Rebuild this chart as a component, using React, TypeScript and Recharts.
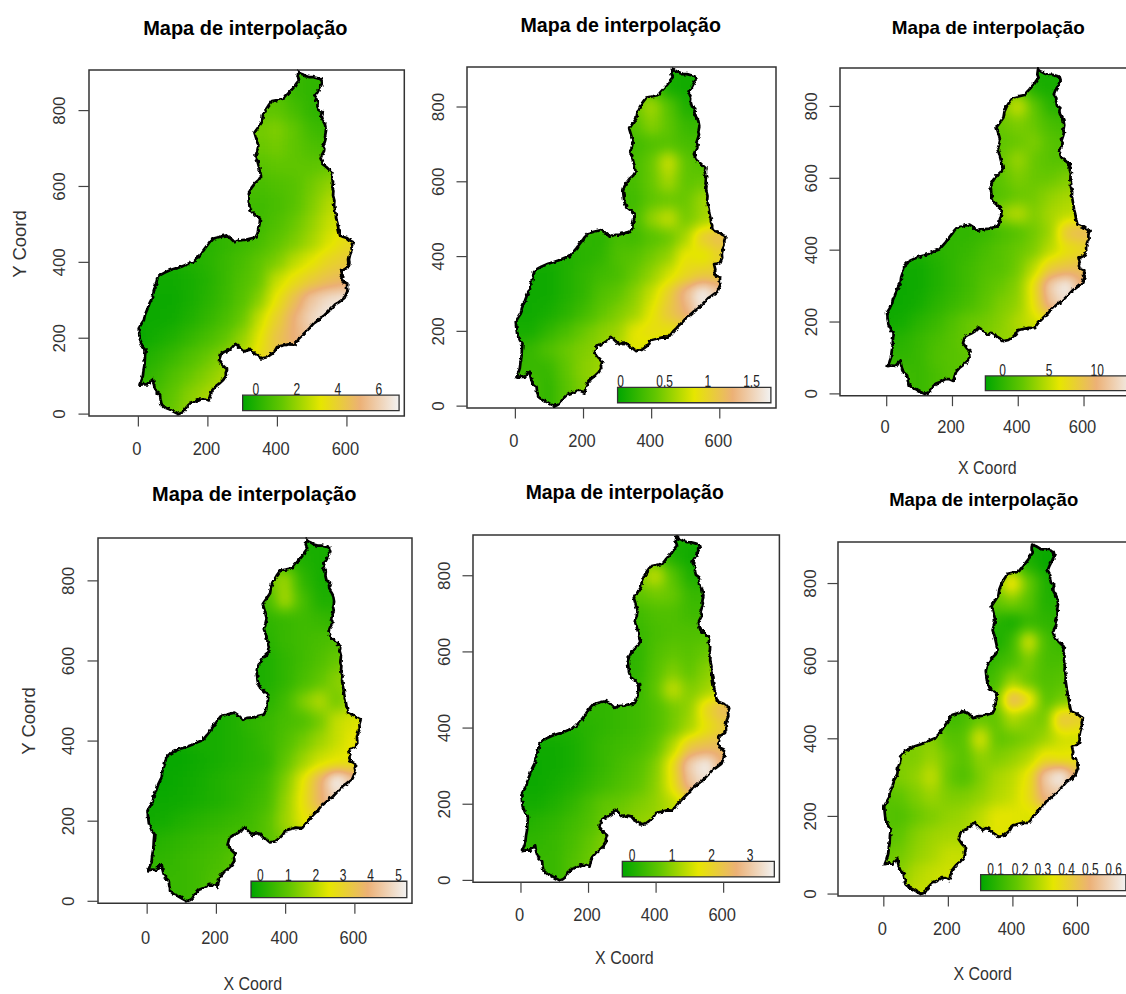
import { ReferenceArea, Scatter, ScatterChart, XAxis, YAxis } from "recharts";

const FONT = '"Liberation Sans", Arial, sans-serif';

// terrain palette (level 0, 25, 50, 75, 100)
const paletteR = [0, 0.39, 0.9, 0.925, 0.95];
const paletteG = [0.65, 0.78, 0.9, 0.69, 0.95];
const paletteB = [0, 0, 0, 0.46, 0.95];
const paletteStops = ["#00A600", "#63C600", "#E6E600", "#ECB176", "#F2F2F2"];

const xTicks = [0, 200, 400, 600];
const yTicks = [0, 200, 400, 600, 800];
const X_DOMAIN = [-142, 765];
const Y_DOMAIN = [-5, 907];

const gridXs = [0, 50, 100, 150, 200, 250, 300, 350, 400, 450, 500, 550, 600];
const gridYs = [900, 850, 800, 750, 700, 650, 600, 550, 500, 450, 400, 350, 300, 250, 200, 150, 100, 50, 0];

const outlineX = [
  460, 466, 472, 482, 492, 504, 516, 526, 529, 523, 518, 513, 508, 512, 516, 515, 518, 528, 525, 527, 533, 537, 540, 537, 539, 537,
  531, 535, 534, 528, 524, 528, 531, 540, 546, 558, 556, 560, 558, 561, 560, 564, 563, 568, 570, 573, 576, 580, 590, 600, 608, 617, 613, 614,
  609, 606, 607, 602, 592, 583, 587, 584, 586, 601, 600, 602, 599, 593, 584, 575, 566, 556, 546, 536, 522, 511, 503, 492, 478, 472, 464, 458,
  448, 432, 418, 408, 399, 392, 384, 370, 355, 344, 335, 326, 316, 306, 296, 287, 279, 268, 257, 245, 238, 232, 238, 243, 255, 251, 252, 244, 236,
  222, 211, 206, 203, 191, 179, 165, 150, 140, 130, 124, 115, 102, 91, 78, 67, 64, 62, 52, 47, 44, 42, 34, 27, 14, 3, 8, 13, 15, 18, 19, 21, 14, 11,
  5, 3, 1, 9, 16, 19, 27, 33, 42, 44, 50, 55, 64, 76, 96, 115, 128, 145, 160, 179, 188, 199, 206, 213, 233, 252, 264, 277, 290, 306, 322, 337,
  343, 345, 349, 350, 338, 326, 320, 318, 316, 320, 326, 336, 346, 353, 350, 345, 342, 337, 342, 345, 340, 334, 344, 355, 358, 365, 374, 384, 400, 419, 428, 438, 448, 455, 462, 458, 460,
];
const outlineY = [
  903, 898, 896, 891, 888, 888, 885, 882, 873, 862, 853, 845, 834, 828, 823, 812, 802, 796, 787, 778, 770, 763, 748, 733, 727, 720,
  704, 699, 693, 683, 674, 666, 658, 652, 647, 637, 625, 613, 596, 588, 577, 562, 551, 524, 512, 502, 486, 471, 467, 464, 458, 454, 442, 431,
  420, 408, 397, 386, 381, 380, 365, 358, 350, 344, 332, 325, 319, 306, 300, 294, 289, 279, 270, 261, 252, 243, 238, 226, 214, 208, 201, 194,
  183, 184, 181, 179, 177, 166, 159, 150, 147, 155, 159, 168, 170, 165, 172, 180, 185, 174, 168, 163, 159, 141, 134, 128, 118, 108, 101, 90, 83,
  73, 61, 48, 36, 41, 41, 34, 29, 20, 7, 3, 0, 6, 12, 17, 25, 38, 52, 59, 70, 80, 92, 86, 78, 79, 77, 88, 101, 117, 132, 150, 168, 175, 181,
  194, 208, 226, 238, 248, 262, 279, 294, 310, 325, 340, 359, 367, 373, 381, 386, 390, 397, 402, 422, 433, 446, 455, 462, 467, 471, 464, 453, 458, 459, 463, 466,
  476, 488, 502, 515, 524, 533, 546, 560, 575, 587, 597, 609, 617, 627, 640, 658, 668, 680, 694, 707, 724, 742, 755, 769, 785, 800, 813, 825, 828, 832, 842, 852, 862, 872, 880, 889, 903,
];

const levels1 = [
  [14, 14, 14, 14, 14, 14, 14, 14, 14, 14, 12, 12, 12],
  [20, 20, 20, 20, 20, 20, 20, 22, 20, 14, 12, 12, 12],
  [24, 24, 24, 24, 24, 24, 24, 24, 24, 18, 12, 10, 10],
  [28, 28, 28, 28, 28, 28, 28, 28, 30, 24, 16, 14, 14],
  [26, 26, 26, 26, 26, 26, 26, 26, 28, 24, 20, 18, 18],
  [22, 22, 22, 22, 22, 22, 22, 22, 24, 24, 24, 26, 28],
  [18, 18, 18, 18, 18, 18, 18, 18, 20, 22, 28, 34, 38],
  [16, 16, 16, 16, 16, 16, 16, 16, 18, 22, 30, 40, 46],
  [14, 14, 14, 14, 14, 14, 14, 16, 20, 26, 34, 44, 50],
  [8, 8, 8, 8, 10, 12, 15, 18, 24, 30, 38, 48, 56],
  [6, 6, 6, 8, 10, 14, 18, 24, 30, 42, 50, 58, 62],
  [4, 4, 4, 6, 9, 14, 20, 26, 44, 54, 62, 68, 72],
  [3, 3, 3, 6, 10, 15, 22, 32, 52, 68, 84, 92, 96],
  [3, 3, 4, 8, 13, 18, 26, 44, 60, 76, 90, 98, 100],
  [2, 5, 8, 13, 18, 24, 34, 50, 66, 76, 84, 90, 90],
  [6, 10, 14, 20, 26, 32, 40, 54, 64, 70, 74, 74, 74],
  [10, 14, 20, 26, 32, 38, 42, 54, 60, 64, 64, 64, 64],
  [14, 18, 24, 32, 38, 42, 44, 50, 56, 60, 60, 60, 60],
  [16, 20, 26, 34, 40, 44, 44, 50, 56, 60, 60, 60, 60],
];
const levels2 = [
  [8, 8, 8, 8, 8, 8, 8, 8, 8, 6, 6, 6, 6],
  [20, 20, 20, 20, 20, 20, 20, 22, 18, 6, 4, 6, 6],
  [26, 26, 26, 26, 26, 26, 26, 26, 38, 22, 8, 8, 8],
  [22, 22, 22, 22, 22, 22, 22, 22, 32, 24, 14, 14, 14],
  [16, 16, 16, 16, 16, 16, 16, 16, 20, 22, 18, 18, 18],
  [18, 18, 18, 18, 18, 18, 18, 18, 26, 46, 24, 20, 20],
  [18, 18, 18, 18, 18, 18, 18, 18, 26, 38, 24, 26, 30],
  [16, 16, 16, 16, 16, 16, 16, 16, 24, 26, 26, 36, 40],
  [18, 18, 18, 18, 18, 18, 18, 18, 34, 44, 28, 36, 44],
  [12, 12, 12, 12, 12, 10, 18, 16, 22, 26, 38, 62, 68],
  [6, 6, 6, 8, 10, 12, 20, 22, 28, 34, 52, 48, 58],
  [4, 4, 4, 8, 12, 16, 18, 26, 34, 46, 56, 62, 62],
  [4, 4, 4, 8, 12, 20, 24, 32, 44, 60, 80, 100, 84],
  [4, 4, 6, 10, 16, 24, 30, 36, 50, 64, 74, 96, 84],
  [6, 6, 12, 18, 26, 32, 36, 50, 54, 52, 56, 56, 56],
  [10, 14, 20, 26, 30, 34, 40, 50, 46, 46, 46, 46, 46],
  [14, 14, 14, 24, 32, 36, 38, 44, 46, 46, 46, 46, 46],
  [18, 18, 12, 22, 30, 36, 38, 44, 46, 46, 46, 46, 46],
  [18, 18, 12, 22, 30, 36, 38, 44, 46, 46, 46, 46, 46],
];
const levels3 = [
  [8, 8, 8, 8, 8, 8, 8, 8, 8, 6, 6, 6, 6],
  [22, 22, 22, 22, 22, 22, 22, 22, 22, 8, 6, 6, 6],
  [30, 30, 30, 30, 30, 30, 30, 30, 46, 24, 10, 10, 10],
  [24, 24, 24, 24, 24, 24, 24, 26, 30, 26, 18, 16, 16],
  [24, 24, 24, 24, 24, 24, 24, 24, 26, 30, 22, 20, 20],
  [22, 22, 22, 22, 22, 22, 22, 26, 36, 26, 22, 22, 22],
  [18, 18, 18, 18, 18, 18, 18, 24, 30, 26, 26, 30, 30],
  [14, 14, 14, 14, 14, 14, 16, 22, 26, 28, 34, 38, 38],
  [16, 16, 16, 16, 16, 16, 18, 34, 42, 30, 38, 42, 42],
  [12, 12, 12, 12, 12, 12, 14, 18, 22, 28, 36, 66, 70],
  [8, 8, 8, 10, 12, 14, 18, 22, 26, 30, 42, 52, 56],
  [4, 4, 4, 8, 12, 16, 20, 22, 28, 42, 62, 66, 68],
  [3, 3, 4, 8, 12, 16, 22, 26, 32, 54, 88, 100, 72],
  [3, 3, 5, 10, 14, 18, 24, 30, 34, 52, 82, 94, 72],
  [4, 5, 10, 14, 20, 26, 28, 32, 40, 46, 50, 52, 52],
  [8, 10, 14, 18, 22, 26, 30, 34, 36, 40, 40, 40, 40],
  [12, 12, 14, 20, 22, 24, 26, 30, 34, 36, 36, 36, 36],
  [16, 16, 14, 18, 22, 22, 24, 30, 34, 36, 36, 36, 36],
  [16, 16, 14, 18, 22, 22, 24, 30, 34, 36, 36, 36, 36],
];
const levels4 = [
  [8, 8, 8, 8, 8, 8, 8, 8, 8, 6, 6, 6, 6],
  [14, 14, 14, 14, 14, 14, 14, 14, 12, 8, 6, 6, 6],
  [26, 26, 26, 26, 26, 26, 26, 26, 36, 12, 6, 6, 6],
  [14, 14, 14, 14, 14, 14, 14, 18, 38, 18, 8, 8, 8],
  [10, 10, 10, 10, 10, 10, 10, 12, 14, 16, 14, 12, 12],
  [8, 8, 8, 8, 8, 8, 8, 10, 14, 16, 18, 20, 20],
  [6, 6, 6, 6, 6, 6, 6, 8, 12, 16, 20, 26, 28],
  [6, 6, 6, 6, 6, 6, 6, 8, 12, 18, 24, 32, 36],
  [8, 8, 8, 8, 8, 8, 8, 10, 16, 30, 40, 28, 42],
  [6, 6, 6, 6, 6, 8, 12, 14, 18, 20, 28, 44, 48],
  [3, 3, 4, 6, 6, 8, 10, 14, 20, 28, 36, 44, 52],
  [2, 2, 2, 4, 6, 8, 10, 12, 24, 36, 46, 50, 52],
  [2, 2, 3, 5, 8, 10, 12, 16, 30, 50, 72, 100, 80],
  [3, 3, 4, 6, 8, 10, 14, 18, 34, 52, 72, 90, 76],
  [4, 5, 8, 10, 12, 14, 16, 22, 36, 50, 56, 56, 56],
  [8, 10, 12, 14, 16, 18, 18, 22, 30, 34, 34, 34, 34],
  [12, 12, 14, 16, 18, 22, 22, 24, 30, 30, 30, 30, 30],
  [14, 14, 14, 16, 20, 22, 22, 24, 30, 30, 30, 30, 30],
  [14, 14, 14, 16, 20, 22, 22, 24, 30, 30, 30, 30, 30],
];
const levels5 = [
  [8, 8, 8, 8, 8, 8, 8, 8, 8, 6, 6, 6, 6],
  [20, 20, 20, 20, 20, 20, 20, 20, 20, 8, 4, 4, 4],
  [30, 30, 30, 30, 30, 30, 30, 30, 44, 22, 8, 8, 8],
  [24, 24, 24, 24, 24, 24, 24, 24, 28, 26, 14, 14, 14],
  [16, 16, 16, 16, 16, 16, 16, 16, 20, 20, 16, 16, 16],
  [14, 14, 14, 14, 14, 14, 14, 14, 18, 20, 20, 20, 20],
  [10, 10, 10, 10, 10, 10, 10, 12, 20, 24, 22, 26, 30],
  [12, 12, 12, 12, 12, 12, 12, 12, 22, 30, 24, 32, 38],
  [12, 12, 12, 12, 12, 12, 12, 14, 24, 44, 30, 36, 46],
  [12, 12, 12, 12, 12, 12, 14, 16, 20, 28, 34, 58, 70],
  [8, 8, 8, 8, 10, 12, 14, 16, 20, 28, 38, 52, 62],
  [4, 4, 4, 6, 10, 14, 16, 18, 24, 40, 64, 68, 70],
  [3, 3, 4, 6, 10, 14, 18, 22, 30, 54, 88, 100, 72],
  [3, 3, 5, 8, 12, 16, 20, 24, 32, 52, 82, 94, 72],
  [5, 5, 8, 12, 18, 24, 26, 30, 34, 42, 52, 54, 54],
  [8, 10, 12, 16, 20, 26, 30, 34, 36, 40, 40, 40, 40],
  [12, 12, 14, 18, 24, 30, 32, 34, 36, 36, 36, 36, 36],
  [14, 14, 14, 20, 26, 30, 32, 34, 36, 36, 36, 36, 36],
  [14, 14, 14, 20, 26, 30, 32, 34, 36, 36, 36, 36, 36],
];
const levels6 = [
  [8, 8, 8, 8, 8, 8, 8, 8, 8, 4, 3, 3, 3],
  [10, 10, 10, 10, 10, 10, 10, 10, 22, 8, 2, 2, 2],
  [30, 30, 30, 30, 30, 30, 30, 30, 56, 26, 8, 6, 6],
  [24, 24, 24, 24, 24, 24, 24, 24, 30, 22, 8, 10, 10],
  [10, 10, 10, 10, 10, 10, 10, 10, 6, 14, 12, 10, 10],
  [6, 6, 6, 6, 6, 6, 6, 6, 14, 48, 18, 14, 14],
  [8, 8, 8, 8, 8, 8, 8, 14, 18, 30, 18, 18, 22],
  [12, 12, 12, 12, 12, 12, 14, 18, 36, 26, 20, 22, 24],
  [14, 14, 14, 14, 14, 14, 16, 26, 74, 56, 22, 28, 34],
  [22, 22, 22, 22, 16, 18, 26, 24, 40, 32, 28, 66, 60],
  [30, 30, 30, 32, 22, 22, 50, 24, 26, 30, 36, 46, 46],
  [30, 30, 30, 36, 28, 22, 34, 30, 34, 40, 54, 50, 52],
  [28, 30, 34, 44, 26, 20, 30, 38, 42, 52, 86, 100, 70],
  [22, 24, 30, 36, 30, 30, 34, 40, 44, 54, 80, 84, 70],
  [22, 20, 26, 30, 34, 36, 42, 50, 50, 48, 52, 52, 52],
  [22, 24, 32, 36, 38, 38, 44, 50, 48, 48, 48, 48, 48],
  [26, 28, 34, 38, 44, 44, 44, 46, 48, 48, 48, 48, 48],
  [30, 32, 40, 44, 46, 44, 44, 46, 48, 48, 48, 48, 48],
  [34, 36, 44, 44, 46, 44, 44, 46, 48, 48, 48, 48, 48],
];

const legendLabels1 = ["0", "2", "4", "6"];
const legendXs1 = [338, 456, 574, 692];
const legendLabels2 = ["0", "0.5", "1", "1.5"];
const legendXs2 = [309, 438, 565, 693];
const legendLabels3 = ["0", "5", "10"];
const legendXs3 = [352, 494, 640];
const legendLabels4 = ["0", "1", "2", "3", "4", "5"];
const legendXs4 = [327, 408, 487, 566, 645, 726];
const legendLabels5 = ["0", "1", "2", "3"];
const legendXs5 = [329, 447, 564, 678];
const legendLabels6 = ["0.1", "0.2", "0.3", "0.4", "0.5", "0.6"];
const legendXs6 = [346, 422, 493, 566, 640, 712];

const M_LEFT = 80;
const M_TOP = 70;
const M_BOTTOM = 105;
const M_RIGHT = 4;

const panels = [
  { left: 88.7, right: 404, top: 70, bottom: 416, title: [245, 35, 20], xTitle: null, yTitle: [244, 26], xBase: 39, yBase: 23.7, levels: levels1, labels: legendLabels1, labelXs: legendXs1 },
  { left: 467.3, right: 776.3, top: 67, bottom: 408, title: [621, 32, 19.6], xTitle: null, yTitle: null, xBase: 38.7, yBase: 23, levels: levels2, labels: legendLabels2, labelXs: legendXs2 },
  { left: 839.7, right: 1138, top: 68, bottom: 395.7, title: [988, 34, 18.9], xTitle: [987, 474], yTitle: null, xBase: 37, yBase: 22.7, levels: levels3, labels: legendLabels3, labelXs: legendXs3 },
  { left: 98.3, right: 412.3, top: 538, bottom: 903.3, title: [254.5, 500.7, 20], xTitle: [253, 990], yTitle: [721, 35.7], xBase: 40.7, yBase: 23.6, levels: levels4, labels: legendLabels4, labelXs: legendXs4 },
  { left: 473.3, right: 779.7, top: 534.7, bottom: 882, title: [625, 498.7, 19.4], xTitle: [624.7, 964], yTitle: null, xBase: 38.7, yBase: 23.3, levels: levels5, labels: legendLabels5, labelXs: legendXs5 },
  { left: 838.3, right: 1131, top: 542, bottom: 896, title: [984, 506, 18.5], xTitle: [983, 980], yTitle: null, xBase: 39, yBase: 22.3, levels: levels6, labels: legendLabels6, labelXs: legendXs6 },
];

const outline = outlineX.map((x, i) => ({ x, y: outlineY[i] }));

function Panel({ cfg, id }: { cfg: (typeof panels)[number]; id: number }) {
  const plotW = cfg.right - cfg.left;
  const plotH = cfg.bottom - cfg.top;
  const chartW = plotW + M_LEFT + M_RIGHT;
  const chartH = plotH + M_TOP + M_BOTTOM;
  const chartLeft = cfg.left - M_LEFT;
  const chartTop = cfg.top - M_TOP;
  const cellW = (plotW * 50) / (X_DOMAIN[1] - X_DOMAIN[0]) + 1;
  const cellH = (plotH * 50) / (Y_DOMAIN[1] - Y_DOMAIN[0]) + 1;

  const cells = gridYs.flatMap((y, r) => gridXs.map((x, c) => ({ x, y, level: cfg.levels[r][c] })));
  const legendPoints = cfg.labelXs.map((x, i) => ({ x, y: 50, label: cfg.labels[i] }));

  return (
    <div style={{ position: "absolute", left: chartLeft, top: chartTop }}>
      <style>{`.heat-${id} { filter: url(#field-${id}); clip-path: url(#map-${id}); }`}</style>
      <ScatterChart
        width={chartW}
        height={chartH}
        margin={{ top: M_TOP, right: M_RIGHT, bottom: 0, left: 0 }}
      >
        <defs>
          <linearGradient id={`bar-${id}`} x1="0" x2="1" y1="0" y2="0">
            {paletteStops.map((c, i) => (
              <stop key={c} offset={i / 4} stopColor={c} />
            ))}
          </linearGradient>
          {/* blur the coarse field, then colour it, so the contour rings come out like the original */}
          <filter
            id={`field-${id}`}
            filterUnits="userSpaceOnUse"
            x={0}
            y={0}
            width={chartW}
            height={chartH}
            colorInterpolationFilters="sRGB"
          >
            <feGaussianBlur stdDeviation={6.5} />
            <feComponentTransfer>
              <feFuncR type="table" tableValues={paletteR.join(" ")} />
              <feFuncG type="table" tableValues={paletteG.join(" ")} />
              <feFuncB type="table" tableValues={paletteB.join(" ")} />
              <feFuncA type="linear" slope={20} />
            </feComponentTransfer>
          </filter>
          {/* the border of the source map is much rougher than the traced points */}
          <filter
            id={`rough-${id}`}
            filterUnits="userSpaceOnUse"
            x={0}
            y={0}
            width={chartW}
            height={chartH}
            colorInterpolationFilters="sRGB"
          >
            <feTurbulence type="fractalNoise" baseFrequency={0.3} numOctaves={1} seed={4} result="noise" />
            <feDisplacementMap in="SourceGraphic" in2="noise" scale={4} xChannelSelector="R" yChannelSelector="G" />
          </filter>
        </defs>
        <XAxis
          type="number"
          dataKey="x"
          domain={X_DOMAIN}
          ticks={xTicks}
          interval={0}
          height={M_BOTTOM}
          axisLine={false}
          tickSize={10.5}
          tickLine={{ stroke: "#444", strokeWidth: 1.2 }}
          tick={(p: any) => (
            <text
              transform={`translate(${p.x - 1.5},${plotH + M_TOP + cfg.xBase}) scale(1,1.14)`}
              textAnchor="middle"
              fontFamily={FONT}
              fontSize={16.5}
              fill="#333"
            >
              {p.payload.value}
            </text>
          )}
        />
        <YAxis
          type="number"
          dataKey="y"
          domain={Y_DOMAIN}
          ticks={yTicks}
          interval={0}
          width={M_LEFT}
          axisLine={false}
          tickSize={10.5}
          tickLine={{ stroke: "#444", strokeWidth: 1.2 }}
          tick={(p: any) => (
            <text
              transform={`translate(${M_LEFT - cfg.yBase},${p.y}) rotate(-90)`}
              textAnchor="middle"
              fontFamily={FONT}
              fontSize={17}
              fill="#333"
            >
              {p.payload.value}
            </text>
          )}
        />
        <ReferenceArea
          x1={X_DOMAIN[0]}
          x2={X_DOMAIN[1]}
          y1={Y_DOMAIN[0]}
          y2={Y_DOMAIN[1]}
          fill="none"
          stroke="#333"
          strokeWidth={1.5}
          ifOverflow="visible"
        />
        <Scatter
          className={`heat-${id}`}
          data={cells}
          isAnimationActive={false}
          shape={(p: any) => {
            const g = Math.round(p.payload.level * 2.55);
            return (
              <rect
                x={p.cx - cellW / 2}
                y={p.cy - cellH / 2}
                width={cellW}
                height={cellH}
                fill={`rgb(${g},${g},${g})`}
                shapeRendering="crispEdges"
              />
            );
          }}
        />
        <Scatter
          data={outline}
          isAnimationActive={false}
          shape={() => <g />}
          line={(p: any) => {
            const d = p.points.map((o: any, i: number) => `${i ? "L" : "M"}${o.x},${o.y}`).join("") + "Z";
            return (
              <g>
                <clipPath id={`map-${id}`}>
                  <path d={d} />
                </clipPath>
                <path
                  d={d}
                  fill="none"
                  stroke="#000"
                  strokeWidth={2.7}
                  strokeLinejoin="round"
                  filter={`url(#rough-${id})`}
                />
              </g>
            );
          }}
        />
        <ReferenceArea
          x1={300}
          x2={750}
          y1={9}
          y2={50}
          fill={`url(#bar-${id})`}
          fillOpacity={1}
          stroke="#333"
          strokeWidth={1.3}
          ifOverflow="visible"
        />
        <Scatter
          data={legendPoints}
          isAnimationActive={false}
          shape={(p: any) => (
            <text
              transform={`translate(${p.cx},${p.cy}) scale(1,1.3)`}
              textAnchor="middle"
              fontFamily={FONT}
              fontSize={12}
              fill="#222"
            >
              {p.payload.label}
            </text>
          )}
        />
        <text
          x={cfg.title[0] - chartLeft}
          y={cfg.title[1] - chartTop}
          textAnchor="middle"
          fontFamily={FONT}
          fontWeight="bold"
          fontSize={cfg.title[2]}
          fill="#000"
        >
          Mapa de interpolação
        </text>
        {cfg.xTitle && (
          <text
            transform={`translate(${cfg.xTitle[0] - chartLeft},${cfg.xTitle[1] - chartTop}) scale(1,1.12)`}
            textAnchor="middle"
            fontFamily={FONT}
            fontSize={16}
            fill="#333"
          >
            X Coord
          </text>
        )}
        {cfg.yTitle && (
          <text
            transform={`translate(${cfg.yTitle[1] - chartLeft},${cfg.yTitle[0] - chartTop}) rotate(-90)`}
            textAnchor="middle"
            fontFamily={FONT}
            fontSize={18.5}
            fill="#333"
          >
            Y Coord
          </text>
        )}
      </ScatterChart>
    </div>
  );
}

export default function App() {
  return (
    <div style={{ position: "absolute", left: 0, top: 0, width: 1126, height: 994, overflow: "hidden", background: "#fff" }}>
      {panels.map((cfg, i) => (
        <Panel key={i} cfg={cfg} id={i} />
      ))}
    </div>
  );
}
